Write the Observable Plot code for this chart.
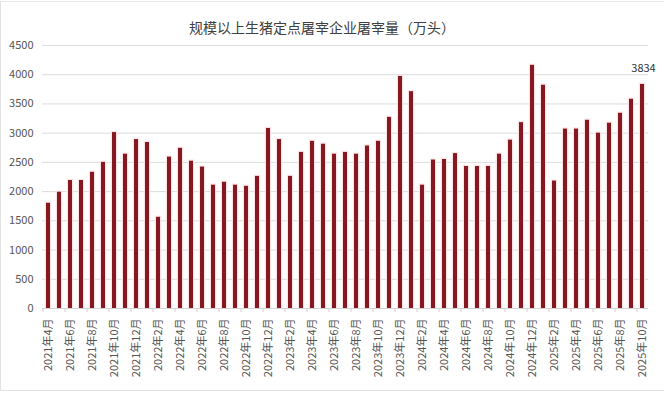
<!DOCTYPE html>
<html>
<head>
<meta charset="utf-8">
<script src="https://cdn.jsdelivr.net/npm/d3@7"></script>
<script src="https://cdn.jsdelivr.net/npm/@observablehq/plot@0.6"></script>
<style>
  html, body { margin: 0; padding: 0; background: #fff; }
  #wrap { position: relative; width: 665px; height: 393px; overflow: hidden; background: #fff;
          font-family: "Noto Sans CJK SC", "Liberation Sans", sans-serif; }
  #frame { position: absolute; left: 0; top: 1px; width: 664px; height: 390px;
           border-left: 1px solid #e3e3e3; border-top: 1px solid #e8e8e8; border-bottom: 1px solid #e3e3e3;
           box-sizing: border-box; pointer-events: none; }
  #title { height: 20px; position: relative; z-index: 2; }
  #title span { position: absolute; top: 18px; left: 0; width: 644px; text-align: center;
                font-size: 14px; line-height: 18px; color: #404040; white-space: nowrap; }
  #chart { position: relative; z-index: 1; }
  svg { display: block; }
</style>
</head>
<body>
<div id="wrap">
  <div id="title"><span>规模以上生猪定点屠宰企业屠宰量（万头）</span></div>
  <div id="chart"></div>
  <div id="frame"></div>
</div>
<script>
const months = [
  "2021年4月","2021年5月","2021年6月","2021年7月","2021年8月","2021年9月","2021年10月","2021年11月","2021年12月",
  "2022年1月","2022年2月","2022年3月","2022年4月","2022年5月","2022年6月","2022年7月","2022年8月","2022年9月","2022年10月","2022年11月","2022年12月",
  "2023年1月","2023年2月","2023年3月","2023年4月","2023年5月","2023年6月","2023年7月","2023年8月","2023年9月","2023年10月","2023年11月","2023年12月",
  "2024年1月","2024年2月","2024年3月","2024年4月","2024年5月","2024年6月","2024年7月","2024年8月","2024年9月","2024年10月","2024年11月","2024年12月",
  "2025年1月","2025年2月","2025年3月","2025年4月","2025年5月","2025年6月","2025年7月","2025年8月","2025年9月","2025年10月"
];
const slaughter = [
  1800, 1990, 2190, 2190, 2330, 2500, 3010, 2640, 2890,
  2840, 1560, 2590, 2740, 2520, 2420, 2110, 2160, 2110, 2090, 2260, 3080,
  2890, 2260, 2670, 2860, 2810, 2640, 2670, 2640, 2780, 2860, 3270, 3970,
  3710, 2110, 2540, 2550, 2650, 2430, 2430, 2430, 2640, 2880, 3180, 4160,
  3820, 2180, 3070, 3070, 3220, 3000, 3170, 3340, 3580, 3834
];
const yTicks = [0, 500, 1000, 1500, 2000, 2500, 3000, 3500, 4000, 4500];
const xLabels = months.filter((m, i) => i % 2 === 0);
const lastLabel = ["3834"];

const data = months.map((m, i) => ({month: m, value: slaughter[i]}));
const last = [data[data.length - 1]];

const chart = Plot.plot({
  width: 665,
  height: 373,
  marginTop: 25,
  marginBottom: 85,
  marginLeft: 42,
  marginRight: 17,
  style: {fontFamily: "'Noto Sans CJK SC', 'Liberation Sans', sans-serif", fontSize: "11px", background: "transparent"},
  x: {type: "band", domain: months, paddingInner: 0.68, paddingOuter: 0.34, label: null},
  y: {domain: [0, 4500], label: null},
  marks: [
    Plot.gridY(yTicks, {stroke: "#dcdcdc", strokeOpacity: 1}),
    Plot.axisY({ticks: yTicks, tickSize: 0, tickPadding: 9, tickFormat: "d", fill: "#555", fontSize: 11, label: null}),
    Plot.barY(data, {x: "month", y: "value", fill: "#fde3e3", insetLeft: -1.2, insetRight: -1.2, insetTop: -1.2}),
    Plot.barY(data, {x: "month", y: "value", fill: "#851820"}),
    Plot.ruleY([0], {stroke: "#d4d4d4"}),
    Plot.axisX({ticks: xLabels, tickSize: 4, tickFormat: () => "", dx: -5.5, stroke: "#cfcfcf", label: null}),
    Plot.axisX({ticks: xLabels, tickSize: 0, tickPadding: 10, tickRotate: -90, fill: "#555", fontSize: 11, label: null}),
    Plot.text(last, {x: "month", y: "value", text: d => lastLabel[0], dy: -16, dx: 1, fill: "#333", fontSize: 11})
  ]
});
document.getElementById("chart").appendChild(chart);
</script>
</body>
</html>
